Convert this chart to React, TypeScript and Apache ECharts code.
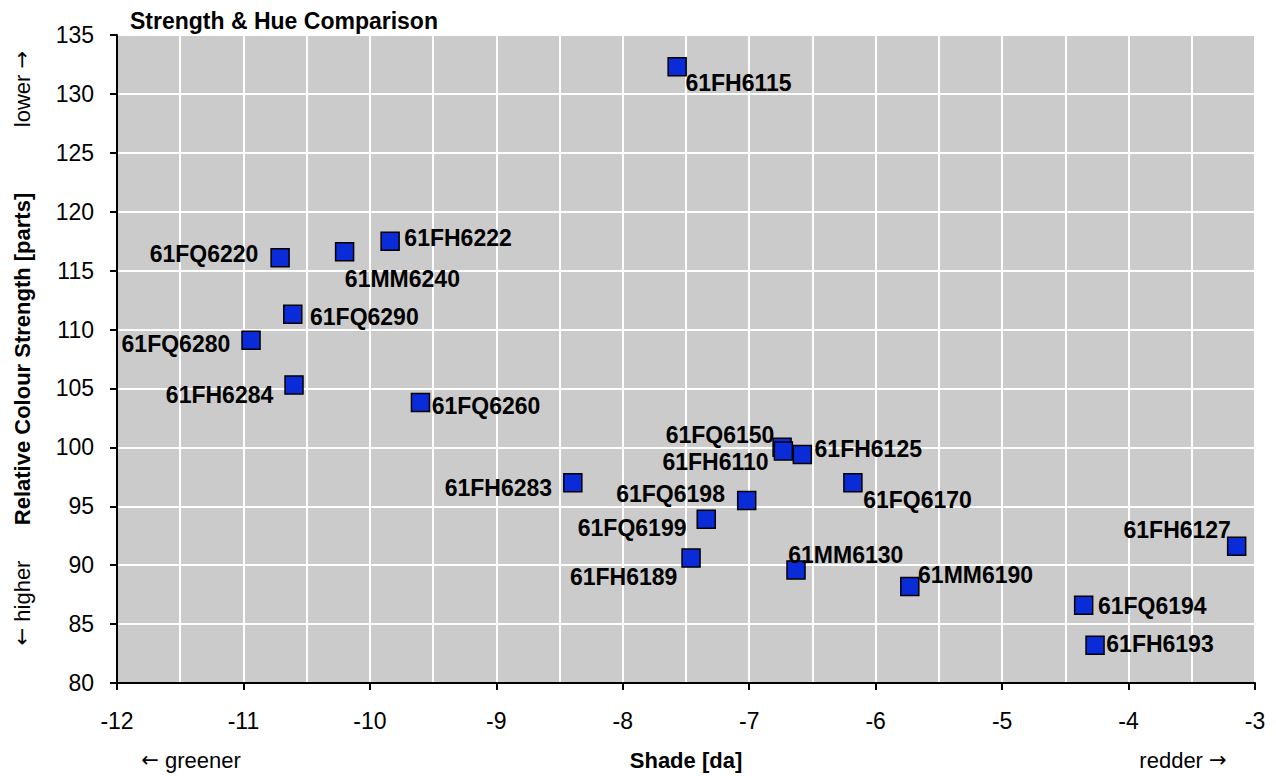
import React, { useEffect, useRef } from "react";
import * as echarts from "echarts";

const names = [
  "61FH6115", "61FH6222", "61MM6240", "61FQ6220", "61FQ6290", "61FQ6280", "61FH6284",
  "61FQ6260", "61FQ6150", "61FH6110", "61FH6125", "61FH6283", "61FQ6170", "61FQ6198",
  "61FQ6199", "61FH6189", "61MM6130", "61MM6190", "61FH6127", "61FQ6194", "61FH6193",
];
const shade = [
  -7.57, -9.84, -10.2, -10.71, -10.61, -10.94, -10.6,
  -9.6, -6.74, -6.73, -6.58, -8.395, -6.18, -7.02,
  -7.34, -7.46, -6.63, -5.73, -3.145, -4.355, -4.265,
];
const strength = [
  132.3, 117.5, 116.6, 116.1, 111.3, 109.1, 105.3,
  103.8, 100.0, 99.7, 99.4, 97.0, 97.0, 95.5,
  93.9, 90.6, 89.6, 88.2, 91.6, 86.6, 83.2,
];
const xTicks = { min: -12, max: -3, step: 1 };
const yTicks = { min: 80, max: 135, step: 5 };

// label placement per point: [dx, dy, align] relative to marker centre (styling only)
const labelPlacement: [number, number, string][] = [
  [9, 17, "left"], [15, -2, "left"], [1, 28, "left"], [-21, -3, "right"], [18, 4, "left"],
  [-20, 5, "right"], [-20, 11, "right"], [12, 4, "left"], [-7, -12, "right"], [-14, 12, "right"],
  [13, -5, "left"], [-20, 6, "right"], [11, 18, "left"], [-21, -6, "right"], [-19, 10, "right"],
  [-13, 20, "right"], [-7, -14, "left"], [9, -11, "left"], [-5, -16, "right"], [15, 2, "left"],
  [12, -1, "left"],
];

const FONT = "Arial, 'Liberation Sans', Helvetica, sans-serif";
const ARROW_FONT = "'DejaVu Sans', sans-serif";
const SYM = 18;

const arrowRich = { ar: { fontFamily: ARROW_FONT, fontSize: 21, fill: "#000" } };

export default function App() {
  const ref = useRef<HTMLDivElement>(null);
  useEffect(() => {
    if (!ref.current) return;
    const chart = echarts.init(ref.current, null, { renderer: "svg" });
    const half = SYM / 2;
    const data = names.map((n, i) => ({
      name: n,
      value: [shade[i], strength[i]],
      label: {
        position: [half + labelPlacement[i][0], half + labelPlacement[i][1]],
        align: labelPlacement[i][2],
        verticalAlign: "middle",
      },
    }));
    const sideText = (text: string, x: number, y: number, rot: boolean, bold = false) => ({
      type: "text",
      x,
      y,
      rotation: rot ? Math.PI / 2 : 0,
      style: {
        text,
        rich: arrowRich,
        fontFamily: FONT,
        fontSize: 22,
        fontWeight: bold ? "bold" : "normal",
        fill: "#000",
        align: "center",
        verticalAlign: "middle",
      },
    });
    chart.setOption({
      animation: false,
      backgroundColor: "#ffffff",
      title: {
        text: "Strength & Hue Comparison",
        left: 125,
        top: 3,
        textStyle: { fontFamily: FONT, fontSize: 23, fontWeight: "bold", color: "#000", lineHeight: 26 },
      },
      grid: {
        left: 117, right: 21, top: 35, bottom: 93,
        show: true, backgroundColor: "#cbcbcb", borderWidth: 0,
      },
      xAxis: {
        type: "value",
        min: xTicks.min, max: xTicks.max, interval: xTicks.step,
        axisLine: { show: true, onZero: false, lineStyle: { color: "#000", width: 2 } },
        axisTick: { show: true, length: 7, lineStyle: { color: "#000", width: 2 } },
        axisLabel: { fontFamily: FONT, fontSize: 23, color: "#000", margin: 26 },
        splitLine: { show: true, lineStyle: { color: "#ffffff", width: 2 } },
        minorTick: { show: false, splitNumber: 2 },
        minorSplitLine: { show: true, lineStyle: { color: "#ffffff", width: 2 } },
      },
      yAxis: {
        type: "value",
        min: yTicks.min, max: yTicks.max, interval: yTicks.step,
        axisLine: { show: true, onZero: false, lineStyle: { color: "#000", width: 2 } },
        axisTick: { show: true, length: 7, lineStyle: { color: "#000", width: 2 } },
        axisLabel: { fontFamily: FONT, fontSize: 23, color: "#000", margin: 23 },
        splitLine: { show: true, lineStyle: { color: "#ffffff", width: 2 } },
      },
      graphic: [
        sideText("Relative Colour Strength [parts]", 22, 359, true, true),
        sideText("lower {ar|→}", 22, 89, true),
        sideText("{ar|←} higher", 22, 603, true),
        sideText("Shade [da]", 686, 760, false, true),
        sideText("{ar|←} greener", 191, 760, false),
        sideText("redder {ar|→}", 1183, 760, false),
      ],
      series: [
        {
          type: "scatter",
          symbol: "rect",
          symbolSize: SYM,
          itemStyle: { color: "#0a2bd8", borderColor: "#000", borderWidth: 1.5, opacity: 1 },
          label: {
            show: true,
            formatter: "{b}",
            fontFamily: FONT,
            fontSize: 23,
            fontWeight: "bold",
            color: "#000",
          },
          labelLayout: { hideOverlap: false },
          data,
        },
      ],
    });
    return () => chart.dispose();
  }, []);
  return (
    <div
      ref={ref}
      style={{ position: "fixed", left: 0, top: 0, width: 1276, height: 776 }}
    />
  );
}
